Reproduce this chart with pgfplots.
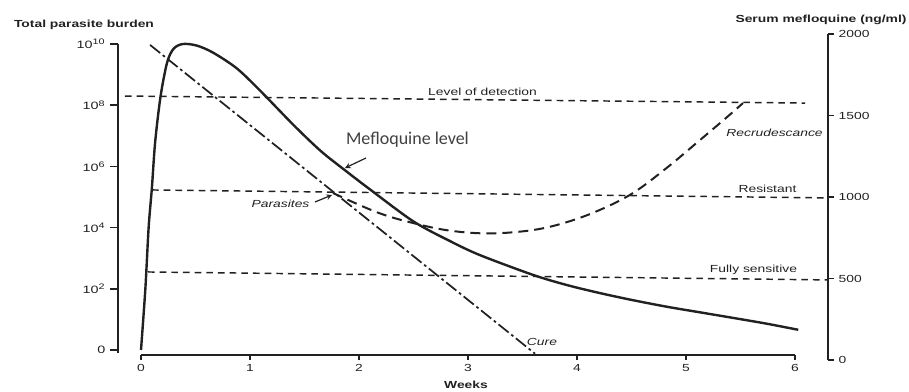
\documentclass[border=0pt]{standalone}
\usepackage{fontspec}
\setmainfont{Liberation Sans}[FakeStretch=1.35]
\newfontfamily\calfont{Carlito}
\usepackage{pgfplots}
\pgfplotsset{compat=1.18}
\definecolor{ink}{gray}{0.13}
\newcommand\lbl{\fontsize{7.7}{9}\selectfont}

\begin{document}
\begin{tikzpicture}
\useasboundingbox (0,0) rectangle (681.75pt,294pt);

% ---- main axis: curves + left axis (exponent scale)
\begin{axis}[
  scale only axis, clip=false,
  at={(88.5pt,29.25pt)}, anchor=south west,
  width=532.5pt, height=231.75pt,
  xmin=-0.2110, xmax=6.3028, ymin=-0.098, ymax=10,
  axis x line=none, axis y line*=left,
  axis line style={ink, line width=1.3pt},
  ytick={0,2,4,6,8,10},
  yticklabels={0,10\textsuperscript{2},10\textsuperscript{4},10\textsuperscript{6},10\textsuperscript{8},10\textsuperscript{10}},
  tick align=outside, major tick length=6pt,
  tick style={ink, line width=1.2pt},
  yticklabel style={font=\fontsize{8}{9}\selectfont, text=ink},
]
% thresholds
\addplot[ink, line width=1.1pt, dash pattern=on 5pt off 3.75pt] coordinates {(-0.147,8.30) (6.092,8.07)};
\addplot[ink, line width=1.1pt, dash pattern=on 5pt off 3.75pt] coordinates {(0.101,5.23) (6.303,4.97)};
\addplot[ink, line width=1.1pt, dash pattern=on 5pt off 3.75pt] coordinates {(0.064,2.55) (6.303,2.29)};
% cure (dash-dot)
\addplot[ink, line width=1.3pt, dash pattern=on 9.75pt off 2.5pt on 2pt off 2.5pt] coordinates {(0.083,9.97) (3.615,-0.12)};
% recrudescence (dashed)
\addplot[ink, line width=1.5pt, dash pattern=on 7.5pt off 4.5pt, smooth, tension=0.6] coordinates {
(1.761,5.13) (2.165,4.50) (2.495,4.15) (2.835,3.90) (3.202,3.81) (3.596,3.92) (3.908,4.18) (4.211,4.58) (4.514,5.13) (4.826,5.96) (5.128,6.86) (5.376,7.61) (5.523,8.07)};
% mefloquine level (solid)
\addplot[ink, line width=1.8pt, smooth, tension=0.5] coordinates {
(0,0) (0.04,2) (0.07,4) (0.10,5.3) (0.13,6.8) (0.18,8.3) (0.24,9.4) (0.30,9.85) (0.385,10.0) (0.51,9.95) (0.66,9.72) (0.88,9.2) (1.10,8.45) (1.40,7.35) (1.65,6.5) (1.88,5.85) (2.10,5.25) (2.50,4.2) (2.84,3.55) (3.11,3.1) (3.60,2.45) (3.91,2.12) (4.21,1.86) (4.51,1.63) (4.83,1.41) (5.13,1.23) (5.43,1.05) (5.74,0.86) (6.03,0.66)};
\end{axis}

% ---- x axis (weeks)
\begin{axis}[
  scale only axis,
  at={(105.75pt,27.75pt)}, anchor=south west,
  width=490.5pt, height=5pt,
  xmin=0, xmax=6, ymin=0, ymax=1,
  axis y line=none, axis x line*=bottom,
  axis line style={ink, line width=1.3pt},
  xtick={0,1,2,3,4,5,6}, xticklabels={0,1,2,3,4,5,6},
  tick align=outside, major tick length=3.5pt,
  tick style={ink, line width=1.2pt},
  xticklabel style={font=\lbl, text=ink},
]
\end{axis}

% ---- right axis (serum mefloquine)
\begin{axis}[
  scale only axis,
  at={(621pt,24pt)}, anchor=south east,
  width=5pt, height=244.5pt,
  xmin=0, xmax=1, ymin=0, ymax=2000,
  axis x line=none, axis y line*=right,
  axis line style={ink, line width=1.3pt},
  ytick={0,500,1000,1500,2000}, yticklabels={0,500,1000,1500,2000},
  tick align=outside, major tick length=4.5pt,
  tick style={ink, line width=1.2pt},
  yticklabel style={font=\lbl, text=ink},
]
\end{axis}

% ---- texts
\node[text=ink, font=\lbl\bfseries] at (63pt,275.25pt) {Total parasite burden};
\node[text=ink, font=\lbl\bfseries] at (615.75pt,279pt) {Serum mefloquine (ng/ml)};
\node[text=ink, font=\lbl] at (361.9pt,225pt) {Level of detection};
\node[text=black!75, font=\calfont\fontsize{13.5}{15}\selectfont] at (305.6pt,189pt) {Mefloquine level};
\draw[ink, line width=0.9pt, -stealth] (274.5pt,175.5pt) -- (258.75pt,168pt);
\node[text=ink, font=\lbl\itshape] at (210.4pt,141pt) {Parasites};
\draw[ink, line width=0.9pt, -stealth] (236.25pt,142.5pt) -- (249pt,147.75pt);
\node[text=ink, font=\lbl\itshape] at (580.9pt,194.25pt) {Recrudescance};
\node[text=ink, font=\lbl] at (575.6pt,152.25pt) {Resistant};
\node[text=ink, font=\lbl] at (565.1pt,91.5pt) {Fully sensitive};
\node[text=ink, font=\lbl\itshape] at (406.5pt,37.5pt) {Cure};
\node[text=ink, font=\lbl\bfseries] at (349.5pt,5.25pt) {Weeks};
\end{tikzpicture}
\end{document}
